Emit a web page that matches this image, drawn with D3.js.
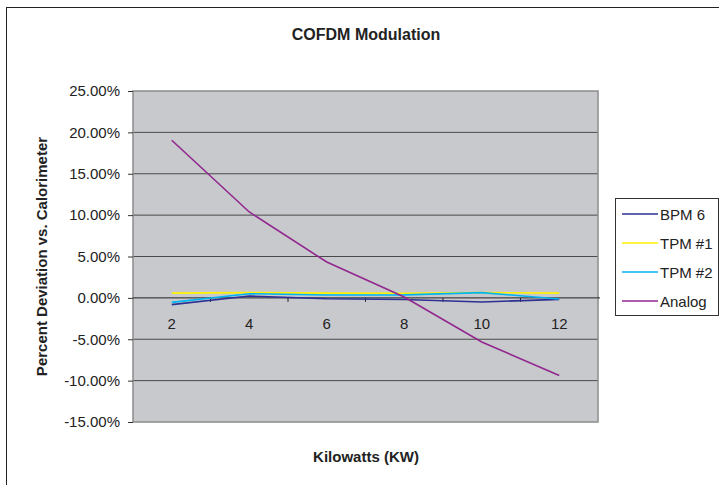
<!DOCTYPE html>
<html>
<head>
<meta charset="utf-8">
<script src="https://cdn.jsdelivr.net/npm/d3@7"></script>
<style>
  body { margin: 0; background: #fff; }
  text { font-family: "Liberation Sans", Arial, sans-serif; fill: #222; }
</style>
</head>
<body>
<svg id="chart" width="719" height="485"></svg>
<script>
// kilowatt readings
const kw = [2, 4, 6, 8, 10, 12];
const bpm6 = [-0.82, 0.22, -0.10, -0.20, -0.50, -0.18];
const tpm1 = [0.58, 0.64, 0.58, 0.56, 0.63, 0.58];
const tpm2 = [-0.54, 0.50, 0.34, 0.36, 0.63, -0.14];
const analog = [19.05, 10.38, 4.33, 0.10, -5.34, -9.37];
const yTicks = [25, 20, 15, 10, 5, 0, -5, -10, -15];
const xLabels = [2, 4, 6, 8, 10, 12];
const xMinor = [3, 5, 7, 9, 11];

const series = [
    { name: 'BPM 6', values: bpm6, color: '#2e3192' },
    { name: 'TPM #1', values: tpm1, color: '#fff200' },
    { name: 'TPM #2', values: tpm2, color: '#00b4f0' },
    { name: 'Analog', values: analog, color: '#92278f' }
];

const svg = d3.select('#chart');

// outer chart border
svg.append('rect')
    .attr('x', 6.5).attr('y', 7.5)
    .attr('width', 730).attr('height', 500)
    .attr('fill', '#fff').attr('stroke', '#222');

const plot = { left: 133, right: 598, top: 91, bottom: 422 };

const x = d3.scaleLinear().domain([1, 13]).range([plot.left, plot.right]);
const y = d3.scaleLinear().domain([-15, 25]).range([plot.bottom, plot.top]);

// plot area
svg.append('rect')
    .attr('x', plot.left).attr('y', plot.top)
    .attr('width', plot.right - plot.left).attr('height', plot.bottom - plot.top)
    .attr('fill', '#c8c9cc');

// gridlines
svg.append('g')
    .selectAll('line')
    .data(yTicks.filter(d => d !== 0 && d !== 25 && d !== -15))
    .enter()
    .append('line')
    .attr('x1', plot.left).attr('x2', plot.right)
    .attr('y1', d => y(d)).attr('y2', d => y(d))
    .attr('stroke', '#4a4a4a').attr('stroke-width', 1);

svg.append('rect')
    .attr('x', plot.left).attr('y', plot.top)
    .attr('width', plot.right - plot.left).attr('height', plot.bottom - plot.top)
    .attr('fill', 'none').attr('stroke', '#8c8c8c').attr('stroke-width', 1.5);

// y axis
const yAxis = svg.append('g')
    .attr('transform', 'translate(' + plot.left + ',0)')
    .call(d3.axisLeft(y).tickValues(yTicks).tickSize(5).tickPadding(8)
        .tickFormat(d => d.toFixed(2) + '%'));
yAxis.select('.domain').remove();
yAxis.selectAll('line').attr('stroke', '#333');
yAxis.selectAll('text')
    .attr('font-size', '15px')
    .style('font-family', '"Liberation Sans", Arial, sans-serif')
    .attr('fill', '#222');

// x axis at zero
const y0 = y(0);
svg.append('line')
    .attr('x1', plot.left).attr('x2', plot.right + 2)
    .attr('y1', y0).attr('y2', y0)
    .attr('stroke', '#222').attr('stroke-width', 1);

svg.append('g')
    .selectAll('line')
    .data(xMinor)
    .enter()
    .append('line')
    .attr('x1', d => x(d)).attr('x2', d => x(d))
    .attr('y1', y0).attr('y2', y0 + 4)
    .attr('stroke', '#222');

svg.append('g')
    .selectAll('text')
    .data(xLabels)
    .enter()
    .append('text')
    .attr('x', d => x(d))
    .attr('y', y0 + 31)
    .attr('text-anchor', 'middle')
    .attr('font-size', '15px')
    .text(d => d);

// series lines
const line = d3.line()
    .x((d, i) => x(kw[i]))
    .y(d => y(d));

svg.append('g')
    .selectAll('path')
    .data(series)
    .enter()
    .append('path')
    .attr('d', d => line(d.values))
    .attr('fill', 'none')
    .attr('stroke', d => d.color)
    .attr('stroke-width', 1.6);

// titles
svg.append('text')
    .attr('x', 366).attr('y', 40)
    .attr('text-anchor', 'middle')
    .attr('font-size', '16px').attr('font-weight', 'bold')
    .text('COFDM Modulation');

svg.append('text')
    .attr('x', 366).attr('y', 462)
    .attr('text-anchor', 'middle')
    .attr('font-size', '15px').attr('font-weight', 'bold')
    .text('Kilowatts (KW)');

svg.append('text')
    .attr('transform', 'translate(47,' + ((plot.top + plot.bottom) / 2) + ') rotate(-90)')
    .attr('text-anchor', 'middle')
    .attr('font-size', '15px').attr('font-weight', 'bold')
    .text('Percent Deviation vs. Calorimeter');

// legend
const legend = svg.append('g');
legend.append('rect')
    .attr('x', 615.5).attr('y', 198.5)
    .attr('width', 103).attr('height', 117)
    .attr('fill', '#fff').attr('stroke', '#333');

const item = legend.selectAll('g')
    .data(series)
    .enter()
    .append('g')
    .attr('transform', (d, i) => 'translate(0,' + (214 + i * 29) + ')');

item.append('line')
    .attr('x1', 622).attr('x2', 658)
    .attr('stroke', d => d.color).attr('stroke-width', 1.6);

item.append('text')
    .attr('x', 660).attr('y', 5.5)
    .attr('font-size', '15px')
    .text(d => d.name);
</script>
</body>
</html>
